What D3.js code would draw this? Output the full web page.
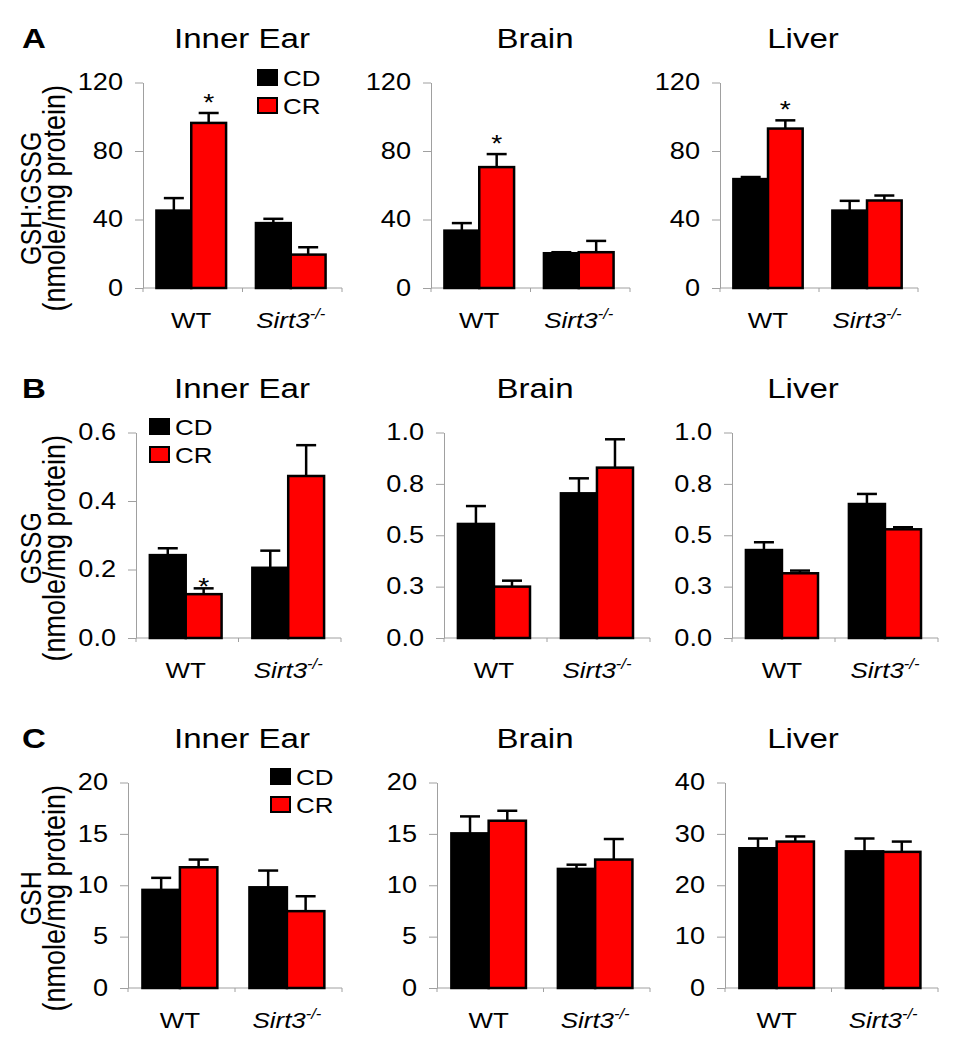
<!DOCTYPE html>
<html><head><meta charset="utf-8">
<script src="https://cdn.jsdelivr.net/npm/d3@7"></script>
<style>
body{margin:0;background:#fff}
svg{display:block}
text{font-family:"Liberation Sans",Arial,sans-serif;fill:#000}
</style>
</head><body>
<svg id="chart" width="965" height="1050"></svg>
<script>
// ---------- data ----------
const tissues = ["Inner Ear", "Brain", "Liver"];
const genotypes = ["WT", "Sirt3"];
const diets = ["CD", "CR"];
const panelLetters = ["A", "B", "C"];
const yTitles = [["GSH:GSSG", "(nmole/mg protein)"], ["GSSG", "(nmole/mg protein)"], ["GSH", "(nmole/mg protein)"]];

// Panel A: GSH:GSSG ratio, per tissue [WT, Sirt3-/-]
const ratioCD    = [[45.2, 37.9], [33.5, 20.3], [63.6, 45.2]];
const ratioCDerr = [[7.3, 2.5], [4.4, 0.6], [1.2, 5.7]];
const ratioCR    = [[96.4, 19.5], [70.6, 20.9], [93.1, 51.1]];
const ratioCRerr = [[5.8, 4.3], [7.6, 6.6], [4.8, 2.9]];
const ratioMax   = [120, 120, 120];
const ratioTicks = [[0, 40, 80, 120], [0, 40, 80, 120], [0, 40, 80, 120]];
const ratioTickLabels = [["0", "40", "80", "120"], ["0", "40", "80", "120"], ["0", "40", "80", "120"]];
const ratioStarsCR = [[true, false], [true, false], [true, false]]; // significance mark on CR bar, [WT, Sirt3]

// Panel B: GSSG
const gssgCD    = [[0.242, 0.205], [0.555, 0.704], [0.428, 0.652]];
const gssgCDerr = [[0.020, 0.050], [0.087, 0.073], [0.038, 0.049]];
const gssgCR    = [[0.128, 0.473], [0.250, 0.829], [0.315, 0.529]];
const gssgCRerr = [[0.017, 0.090], [0.029, 0.138], [0.013, 0.010]];
const gssgMax   = [0.6, 1.0, 1.0];
const gssgTicks = [[0, 0.2, 0.4, 0.6], [0, 0.25, 0.5, 0.75, 1.0], [0, 0.25, 0.5, 0.75, 1.0]];
const gssgTickLabels = [["0.0", "0.2", "0.4", "0.6"], ["0.0", "0.3", "0.5", "0.8", "1.0"], ["0.0", "0.3", "0.5", "0.8", "1.0"]];
const gssgStarsCR = [[true, false], [false, false], [false, false]];

// Panel C: GSH
const gshCD    = [[9.55, 9.8], [15.05, 11.59], [27.2, 26.6]];
const gshCDerr = [[1.17, 1.63], [1.65, 0.41], [1.9, 2.5]];
const gshCR    = [[11.75, 7.48], [16.28, 12.5], [28.5, 26.5]];
const gshCRerr = [[0.75, 1.45], [0.97, 2.0], [1.0, 2.0]];
const gshMax   = [20, 20, 40];
const gshTicks = [[0, 5, 10, 15, 20], [0, 5, 10, 15, 20], [0, 10, 20, 30, 40]];
const gshTickLabels = [["0", "5", "10", "15", "20"], ["0", "5", "10", "15", "20"], ["0", "10", "20", "30", "40"]];
const gshStarsCR = [[false, false], [false, false], [false, false]];

// ---------- layout (styles only) ----------
const SX = 1.18;            // horizontal stretch of the original figure
const rowZero = [288, 638, 988];
const plotH = 205.5;
const colRanges = [
  [[143, 342], [431, 630], [720, 918]],
  [[136, 341], [444, 650], [732, 938]],
  [[128, 342], [437, 650], [725, 938]]
];
const titleX = [242, 535, 803];
const legendPos = [{x: 258, y: 70}, {x: 150, y: 419}, {x: 271, y: 769}];
const colors = {CD: "#000000", CR: "#ff0000"};
const axisColor = "#a0a0a0";

const rows = [
  {cd: ratioCD, cdErr: ratioCDerr, cr: ratioCR, crErr: ratioCRerr, max: ratioMax, ticks: ratioTicks, labels: ratioTickLabels, stars: ratioStarsCR, starGap: 12},
  {cd: gssgCD, cdErr: gssgCDerr, cr: gssgCR, crErr: gssgCRerr, max: gssgMax, ticks: gssgTicks, labels: gssgTickLabels, stars: gssgStarsCR, starGap: 3},
  {cd: gshCD, cdErr: gshCDerr, cr: gshCR, crErr: gshCRerr, max: gshMax, ticks: gshTicks, labels: gshTickLabels, stars: gshStarsCR, starGap: 3}
];

const svg = d3.select("#chart");

function stretchedText(g, x, y, txt, size, opts = {}) {
  return g.append("text")
    .attr("transform", `translate(${x},${y}) scale(${SX},1)`)
    .attr("font-size", size)
    .attr("text-anchor", opts.anchor || "start")
    .attr("font-weight", opts.weight || "normal")
    .text(txt);
}

rows.forEach((row, r) => {
  const y0 = rowZero[r];
  // panel letter
  stretchedText(svg, 22, y0 - 240, panelLetters[r], 28, {weight: "bold"});

  // y title (rotated, two lines)
  const cy = y0 - plotH / 2 + 13;
  yTitles[r].forEach((line, i) => {
    svg.append("text")
      .attr("transform", `translate(${i === 0 ? 41 : 65},${cy}) rotate(-90) scale(1,${SX})`)
      .attr("text-anchor", "middle")
      .attr("font-size", i === 0 ? 25 : 27)
      .text(line);
  });

  tissues.forEach((tissue, c) => {
    const [xa, xb] = colRanges[r][c];
    const g = svg.append("g");
    const y = d3.scaleLinear().domain([0, row.max[c]]).range([y0, y0 - plotH]);
    const x = d3.scaleBand().domain(genotypes).range([xa, xb])
      .paddingInner(0.3).paddingOuter(0.15).align(0.45);
    const xd = d3.scaleBand().domain(diets).range([0, x.bandwidth()]);

    // title
    stretchedText(g, titleX[c], y0 - 240, tissue, 28, {anchor: "middle"});

    // y axis
    const labels = row.labels[c];
    const ticks = row.ticks[c];
    const yAxis = d3.axisLeft(y).tickValues(ticks).tickSize(8).tickSizeOuter(0)
      .tickFormat((d, i) => labels[i]);
    const ga = g.append("g").attr("transform", `translate(${xa},0)`).call(yAxis);
    ga.select(".domain").attr("stroke", axisColor).attr("stroke-width", 1);
    ga.selectAll(".tick line").attr("stroke", axisColor);
    ga.selectAll(".tick text")
      .attr("font-size", 23).attr("font-family", "Liberation Sans, Arial, sans-serif")
      .attr("fill", "#000")
      .attr("x", -20 / SX)
      .attr("transform", `scale(${SX},1)`);

    // x axis line + group boundary ticks
    g.append("line").attr("x1", xa).attr("x2", xb).attr("y1", y0).attr("y2", y0)
      .attr("stroke", axisColor).attr("stroke-width", 1);
    const bounds = [xa, (xa + xb) / 2, xb];
    g.selectAll(".xt").data(bounds).join("line")
      .attr("x1", d => d).attr("x2", d => d).attr("y1", y0).attr("y2", y0 + 4)
      .attr("stroke", axisColor);

    // bars
    genotypes.forEach((gt, gi) => {
      const bx = x(gt);
      const items = [
        {diet: "CD", v: row.cd[c][gi], e: row.cdErr[c][gi], star: false},
        {diet: "CR", v: row.cr[c][gi], e: row.crErr[c][gi], star: row.stars[c][gi]}
      ];
      items.forEach(it => {
        const left = bx + xd(it.diet);
        const w = xd.bandwidth();
        const cx = left + w / 2;
        const yTop = y(it.v + it.e);
        g.append("line").attr("x1", cx).attr("x2", cx).attr("y1", y(it.v)).attr("y2", yTop)
          .attr("stroke", "#000").attr("stroke-width", 2.5);
        g.append("line").attr("x1", cx - 10).attr("x2", cx + 10).attr("y1", yTop).attr("y2", yTop)
          .attr("stroke", "#000").attr("stroke-width", 2.5);
        g.append("rect")
          .attr("x", left).attr("width", w)
          .attr("y", y(it.v)).attr("height", y0 - y(it.v))
          .attr("fill", colors[it.diet]).attr("stroke", "#000").attr("stroke-width", 2.5);
        if (it.star) {
          stretchedText(g, cx, yTop - row.starGap + 10, "*", 24, {anchor: "middle"});
        }
      });
      // x labels
      const lx = bx + x.bandwidth() / 2;
      if (gt === "WT") {
        stretchedText(g, lx, y0 + 40, "WT", 22, {anchor: "middle"});
      } else {
        const t = g.append("text")
          .attr("transform", `translate(${lx},${y0 + 40}) scale(${SX},1)`)
          .attr("text-anchor", "middle").attr("font-size", 22).attr("font-style", "italic");
        t.append("tspan").text("Sirt3");
        t.append("tspan").attr("font-size", 14).attr("dy", -9).text("-/-");
      }
    });
  });

  // legend
  const lp = legendPos[r];
  diets.forEach((d, i) => {
    svg.append("rect").attr("x", lp.x).attr("y", lp.y + i * 28).attr("width", 19).attr("height", 15)
      .attr("fill", colors[d]).attr("stroke", "#000").attr("stroke-width", 2);
    stretchedText(svg, lp.x + 25, lp.y + i * 28 + 16, d, 22);
  });
});
</script>
</body></html>
